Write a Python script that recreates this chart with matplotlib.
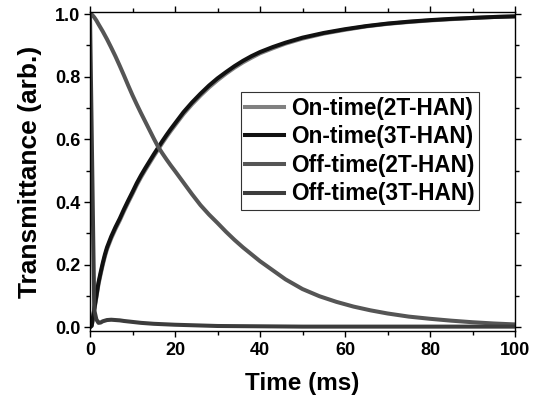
import matplotlib
matplotlib.use("Agg")
import matplotlib.pyplot as plt
from matplotlib.ticker import MultipleLocator, FormatStrFormatter

# ---- data ----
t_on = [0, 0.4, 1, 1.5, 2, 2.5, 3, 3.5, 4, 5, 6, 7, 8, 9, 10, 11, 12, 13, 14, 15, 16, 17, 18, 19, 20,
        22, 24, 26, 28, 30, 32, 34, 36, 38, 40, 43, 46, 50, 55, 60, 65, 70, 75, 80, 85, 90, 95, 100]
on_3t = [0.0, 0.005, 0.058, 0.10, 0.143, 0.175, 0.205, 0.232, 0.255, 0.29, 0.32, 0.347, 0.377, 0.405,
         0.432, 0.46, 0.485, 0.508, 0.53, 0.552, 0.573, 0.594, 0.614, 0.633, 0.651,
         0.687, 0.718, 0.746, 0.772, 0.795, 0.815, 0.834, 0.851, 0.866, 0.879, 0.895, 0.909, 0.925,
         0.94, 0.952, 0.962, 0.97, 0.976, 0.981, 0.985, 0.988, 0.991, 0.993]
on_2t = [0.0, 0.004, 0.054, 0.095, 0.137, 0.169, 0.199, 0.226, 0.249, 0.284, 0.314, 0.341, 0.371, 0.399,
         0.426, 0.454, 0.479, 0.502, 0.524, 0.546, 0.567, 0.588, 0.608, 0.627, 0.645,
         0.681, 0.712, 0.740, 0.766, 0.789, 0.810, 0.829, 0.846, 0.861, 0.875, 0.891, 0.906, 0.922,
         0.938, 0.950, 0.961, 0.969, 0.975, 0.980, 0.984, 0.988, 0.991, 0.993]

t_off2 = [0, 0.5, 1, 1.5, 2, 3, 4, 5, 6, 7, 8, 9, 10, 11, 12, 13, 14, 15, 16, 17, 18, 19, 20,
          22, 24, 26, 28, 30, 32, 34, 36, 38, 40, 43, 46, 50, 54, 58, 62, 66, 70, 75, 80, 85, 90, 95, 100]
off_2t = [1.0, 0.998, 0.99, 0.98, 0.968, 0.945, 0.92, 0.893, 0.865, 0.835, 0.804, 0.772, 0.741, 0.712,
          0.684, 0.657, 0.63, 0.603, 0.577, 0.556, 0.536, 0.517, 0.499,
          0.462, 0.425, 0.39, 0.36, 0.333, 0.305, 0.279, 0.255, 0.233, 0.211, 0.182, 0.153, 0.122,
          0.099, 0.081, 0.066, 0.054, 0.044, 0.034, 0.027, 0.021, 0.016, 0.012, 0.009]

t_off3 = [0, 1, 1.5, 2, 2.5, 3, 4, 5, 6, 7, 8, 10, 12, 15, 20, 25, 30, 40, 50, 60, 80, 100]
off_3t = [1.0, 0.055, 0.025, 0.014, 0.015, 0.019, 0.023, 0.024, 0.023, 0.022, 0.020, 0.017, 0.014,
          0.011, 0.008, 0.006, 0.004, 0.003, 0.002, 0.002, 0.002, 0.002]

labels = ["On-time(2T-HAN)", "On-time(3T-HAN)", "Off-time(2T-HAN)", "Off-time(3T-HAN)"]
colors = ["#808080", "#111111", "#555555", "#3c3c3c"]

plt.rcParams['font.family'] = ['Liberation Sans', 'DejaVu Sans']
plt.rcParams['font.weight'] = 'bold'

fig = plt.figure(figsize=(5.39, 4.0), dpi=100)
ax = fig.add_axes([90/539, 1-331/400, 425/539, 318.7/400])

lw = 2.9
ax.plot(t_on, on_2t, color=colors[0], lw=lw, label=labels[0], solid_joinstyle='round')
ax.plot(t_on, on_3t, color=colors[1], lw=lw, label=labels[1], solid_joinstyle='round')
ax.plot(t_off2, off_2t, color=colors[2], lw=lw, label=labels[2], solid_joinstyle='round')
ax.plot(t_off3, off_3t, color=colors[3], lw=lw, label=labels[3], solid_joinstyle='round')

ax.set_xlim(0, 100)
ax.set_ylim(-0.012, 1.006)
ax.xaxis.set_major_locator(MultipleLocator(20))
ax.xaxis.set_minor_locator(MultipleLocator(10))
ax.yaxis.set_major_locator(MultipleLocator(0.2))
ax.yaxis.set_minor_locator(MultipleLocator(0.1))
ax.yaxis.set_major_formatter(FormatStrFormatter('%.1f'))

ax.tick_params(which='major', direction='out', length=4, width=1, labelsize=13)
ax.tick_params(axis='x', which='major', pad=4)
ax.tick_params(axis='y', which='major', pad=3)
ax.tick_params(which='minor', direction='out', length=3, width=1)
ax.tick_params(which='both', top=True, right=True)
for lab in ax.get_xticklabels() + ax.get_yticklabels():
    lab.set_fontweight('bold')
for s in ax.spines.values():
    s.set_linewidth(1.0)

ax.set_xlabel("Time (ms)", fontsize=17.5, fontweight='bold', labelpad=9)
ax.set_ylabel("Transmittance (arb.)", fontsize=19, fontweight='bold', labelpad=9)

leg = ax.legend(loc='upper right', bbox_to_anchor=(0.915, 0.75), borderaxespad=0,
                fontsize=16.3, handlelength=1.7, handletextpad=0.3, borderpad=0.2,
                labelspacing=0.25, fancybox=False, framealpha=1, edgecolor='#333333')
leg.get_frame().set_linewidth(0.8)
for txt in leg.get_texts():
    txt.set_fontweight('bold')

fig.savefig("out.png", dpi=100)
